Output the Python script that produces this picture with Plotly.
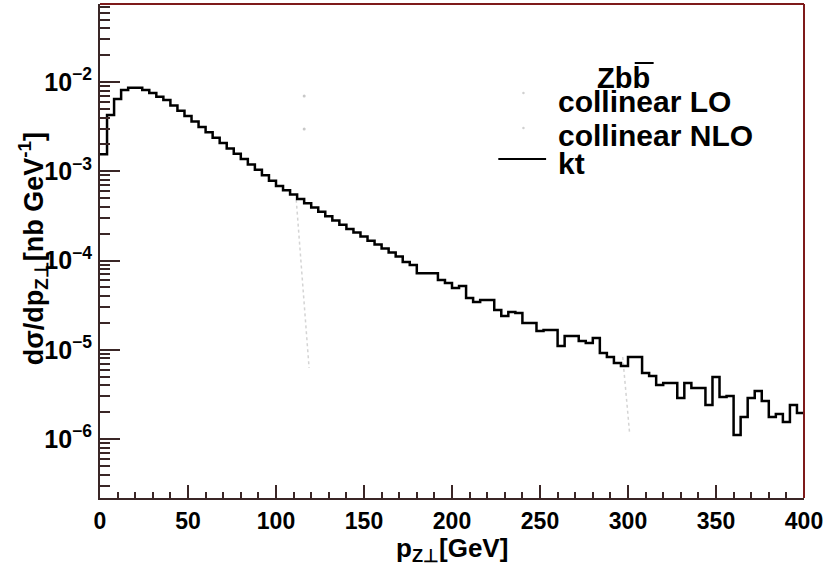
import plotly.graph_objects as go

# ---------------- data ----------------
bin_width = 4
bin_lo = list(range(0, 400, bin_width))          # lower bin edges, GeV

kt_values = [
    1.55e-3, 4.27e-3, 6.45e-3, 8.14e-3, 8.63e-3, 8.63e-3, 8.14e-3, 7.53e-3, 6.84e-3, 6.29e-3,
    5.47e-3, 4.76e-3, 4.15e-3, 3.61e-3, 3.14e-3, 2.74e-3, 2.38e-3, 2.07e-3, 1.80e-3, 1.57e-3,
    1.37e-3, 1.19e-3, 1.04e-3, 9.03e-4, 7.85e-4, 6.83e-4, 6.12e-4, 5.48e-4, 4.90e-4, 4.39e-4,
    3.93e-4, 3.51e-4, 3.14e-4, 2.81e-4, 2.52e-4, 2.25e-4, 2.06e-4, 1.86e-4, 1.67e-4, 1.51e-4,
    1.36e-4, 1.23e-4, 1.11e-4, 9.62e-5, 8.91e-5, 7.19e-5, 7.19e-5, 7.19e-5, 6.05e-5, 5.60e-5,
    4.92e-5, 5.18e-5, 3.80e-5, 3.43e-5, 3.61e-5, 3.61e-5, 2.79e-5, 2.39e-5, 2.65e-5, 2.58e-5,
    1.99e-5, 1.99e-5, 1.62e-5, 1.66e-5, 1.66e-5, 1.10e-5, 1.43e-5, 1.43e-5, 1.25e-5, 1.19e-5,
    1.35e-5, 9.20e-6, 8.30e-6, 7.10e-6, 6.57e-6, 8.30e-6, 8.30e-6, 5.49e-6, 5.08e-6, 4.03e-6,
    4.24e-6, 4.24e-6, 2.88e-6, 4.24e-6, 3.73e-6, 3.73e-6, 2.40e-6, 4.95e-6, 2.96e-6, 3.03e-6,
    1.11e-6, 1.76e-6, 2.88e-6, 3.45e-6, 2.67e-6, 1.76e-6, 1.91e-6, 1.55e-6, 2.40e-6, 1.96e-6,
]

# faint (washed out) collinear curves
lo_x = [111.5, 118.8]
lo_y = [4.8e-4, 6.25e-6]
nlo_x = [297.0, 300.9]
nlo_y = [8.3e-6, 1.17e-6]
ghost_x = [116.0, 116.0]
ghost_y = [6.97e-3, 2.97e-3]

x_ticks = [0, 50, 100, 150, 200, 250, 300, 350, 400]
legend_entries = ["collinear LO", "collinear NLO", "kt"]
legend_title = "Zbb"

# ---------------- style ----------------
FONT = "Liberation Sans, Arial, Helvetica, sans-serif"
AXC = "#3a2626"
FRAMEC = "#7e1a1a"

edges = bin_lo + [bin_lo[-1] + bin_width]
yvals = kt_values + [kt_values[-1]]

fig = go.Figure()
fig.add_trace(go.Scatter(x=lo_x, y=lo_y, mode="lines",
                         line=dict(color="#d4d4d4", width=1.5, dash="dot"),
                         name="collinear LO", showlegend=False, hoverinfo="skip"))
fig.add_trace(go.Scatter(x=nlo_x, y=nlo_y, mode="lines",
                         line=dict(color="#d4d4d4", width=1.5, dash="dot"),
                         name="collinear NLO", showlegend=False, hoverinfo="skip"))
fig.add_trace(go.Scatter(x=ghost_x, y=ghost_y, mode="markers",
                         marker=dict(color="#c8c8c8", size=3),
                         showlegend=False, hoverinfo="skip"))
fig.add_trace(go.Scatter(x=edges, y=yvals, mode="lines", line_shape="hv",
                         line=dict(color="black", width=2.5),
                         name="kt", showlegend=False))

W, H = 827, 584
L, R, T, B = 100, 20, 4, 86
pw, ph = W - L - R, H - T - B


def px(xp):
    return (xp - L) / pw


def py(yp):
    return (H - B - yp) / ph


fig.update_layout(
    width=W, height=H,
    margin=dict(l=L, r=R, t=T, b=B),
    plot_bgcolor="white", paper_bgcolor="white",
    showlegend=False,
    font=dict(family=FONT, color="black"),
)

fig.update_xaxes(
    range=[0, 400], tickvals=x_ticks, ticks="inside", ticklen=13, tickwidth=1.5,
    tickcolor=AXC, showline=True, linecolor=AXC, linewidth=2, showgrid=False,
    zeroline=False,
    minor=dict(dtick=10, ticks="inside", ticklen=6, tickwidth=1.5, tickcolor=AXC,
               showgrid=False),
    tickfont=dict(size=23, family=FONT, weight="bold", color="black"),
    ticklabelstandoff=1,
)
fig.update_yaxes(
    type="log", range=[-6.661, -1.126], dtick=1, exponentformat="power",
    ticks="inside", ticklen=20, tickwidth=1.5, tickcolor=AXC,
    showline=True, linecolor=AXC, linewidth=2, showgrid=False, zeroline=False,
    minor=dict(dtick="D1", ticks="inside", ticklen=10, tickwidth=1.5, tickcolor=AXC,
               showgrid=False),
    tickfont=dict(size=20, family=FONT, weight="bold", color="black"),
    ticklabelstandoff=2,
)

# frame (top / right)
fig.add_shape(type="line", xref="paper", yref="paper", x0=0, x1=1, y0=1, y1=1,
              line=dict(color=FRAMEC, width=2))
fig.add_shape(type="line", xref="paper", yref="paper", x0=1, x1=1, y0=0, y1=1,
              line=dict(color=FRAMEC, width=2))

# axis titles
fig.add_annotation(xref="paper", yref="paper", x=0.5, y=py(549),
                   text="p<sub>Z⊥</sub>[GeV]", showarrow=False,
                   xanchor="center", yanchor="middle",
                   font=dict(size=26, family=FONT, weight="bold", color="black"))
fig.add_annotation(xref="paper", yref="paper", x=px(33), y=py(249),
                   text="dσ/dp<sub>Z⊥</sub>[nb GeV<sup>-1</sup>]", showarrow=False,
                   textangle=-90, xanchor="center", yanchor="middle",
                   font=dict(size=27, family=FONT, weight="bold", color="black"))

# legend
fig.add_annotation(xref="paper", yref="paper", x=px(597), y=py(78), text=legend_title,
                   showarrow=False, xanchor="left", yanchor="middle",
                   font=dict(size=29, family=FONT, weight="bold", color="black"))
fig.add_shape(type="line", xref="paper", yref="paper", x0=px(637), x1=px(656),
              y0=py(63), y1=py(63), line=dict(color="black", width=2))
legend_y = [102, 135, 163]
for txt, yy in zip(legend_entries, legend_y):
    fig.add_annotation(xref="paper", yref="paper", x=px(558), y=py(yy), text=txt,
                       showarrow=False, xanchor="left", yanchor="middle",
                       font=dict(size=30, family=FONT, weight="bold", color="black"))
fig.add_shape(type="line", xref="paper", yref="paper", x0=px(500), x1=px(548),
              y0=py(159), y1=py(159), line=dict(color="black", width=2))
for yy in (93, 128):
    fig.add_shape(type="circle", xref="paper", yref="paper",
                  x0=px(524), x1=px(526.5), y0=py(yy + 1.2), y1=py(yy - 1.2),
                  line=dict(width=0), fillcolor="#d0d0d0")

fig.write_html("out.html")
